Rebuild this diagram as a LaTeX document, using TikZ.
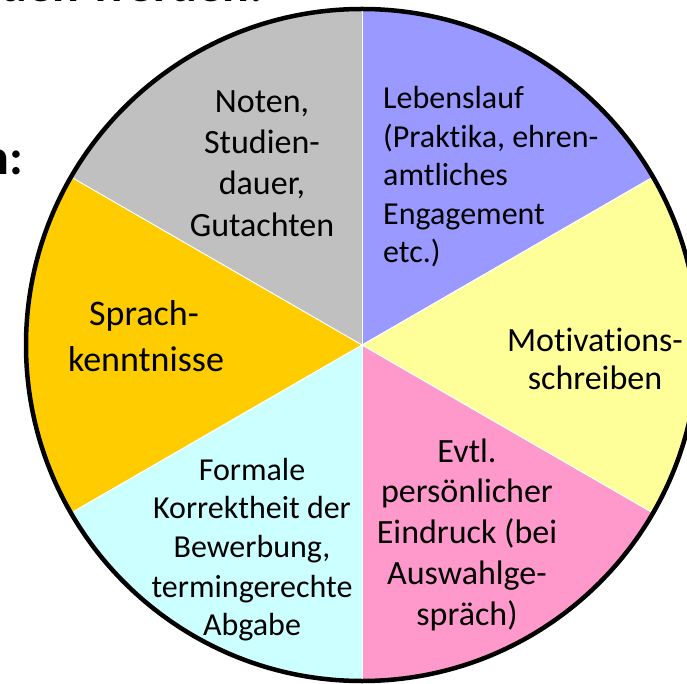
\documentclass[tikz,border=0pt]{standalone}
\usepackage{fontspec}
\setmainfont[Ligatures=NoCommon,RawFeature={-liga;-calt;-dlig;-clig}]{Carlito}
\usetikzlibrary{calc}
\definecolor{pblue}{HTML}{9999FF}
\definecolor{pgray}{HTML}{C0C0C0}
\definecolor{porange}{HTML}{FFCC00}
\definecolor{pcyan}{HTML}{CCFFFF}
\definecolor{ppink}{HTML}{FF99CC}
\definecolor{pyellow}{HTML}{FFFF99}
\tikzset{
  lblA/.style={font=\fontsize{32}{38}\selectfont, inner sep=0pt, anchor=base},
  lblB/.style={font=\fontsize{34}{41}\selectfont, inner sep=0pt, anchor=base},
  lblC/.style={font=\fontsize{36}{43}\selectfont, inner sep=0pt, anchor=base},
  lblW/.style={font=\fontsize{32}{38}\selectfont, inner sep=0pt, anchor=base west},
  headtxt/.style={font=\bfseries\fontsize{50}{60}\selectfont, inner sep=0pt, anchor=base east},
  spoke/.style={white, line width=1pt},
  rim/.style={black, line width=4.5pt}
}
\begin{document}
\begin{tikzpicture}[x=1pt,y=1pt]
\useasboundingbox (0,0) rectangle (687,683);
\clip (0,0) rectangle (687,683);
\fill[white] (0,0) rectangle (687,683);
\coordinate (c) at (362,338);
\def\R{336}
\foreach \a/\col in {30/pblue,90/pgray,150/porange,210/pcyan,270/ppink,330/pyellow}
  \fill[\col] (c) -- ++(\a:\R) arc[start angle=\a, delta angle=60, radius=\R] -- cycle;
\foreach \a in {30,90,150,210,270,330}
  \coordinate (s\a) at ($(c)+(\a:\R)$);
\foreach \a in {30,90,150,210,270,330}
  \draw[spoke] (c) -- (s\a);
\draw[rim] (c) circle[radius=\R];

% header fragments
\node[headtxt] (head) at (263,681) {den werden:};
\node[headtxt] (side) at (23,508) {n:};

% gray
\node[lblB] (g1) at (262,570) {Noten,};
\node[lblB] (g2) at (262,529) {Studien-};
\node[lblB] (g3) at (262,488) {dauer,};
\node[lblB] (g4) at (262,446) {Gutachten};

% blue
\node[lblW] (b1) at (383,574) {Lebenslauf};
\node[lblW] (b2) at (383,535) {(Praktika, ehren-};
\node[lblW] (b3) at (383,497) {amtliches};
\node[lblW] (b4) at (383,458) {Engagement};
\node[lblW] (b5) at (383,420) {etc.)};

% yellow
\node[lblB] (y1) at (595,331) {Motivations-};
\node[lblB] (y2) at (595,293) {schreiben};

% pink
\node[lblB] (p1) at (467,221) {Evtl.};
\node[lblB] (p2) at (467,181) {persönlicher};
\node[lblB] (p3) at (467,140) {Eindruck (bei};
\node[lblB] (p4) at (467,99) {Auswahlge-};
\node[lblB] (p5) at (467,58) {spräch)};

% cyan
\node[lblA] (k1) at (252,203) {Formale};
\node[lblA] (k2) at (252,165) {Korrektheit der};
\node[lblA] (k3) at (252,126) {Bewerbung,};
\node[lblA] (k4) at (252,86) {termingerechte};
\node[lblA] (k5) at (252,48) {Abgabe};

% orange
\node[lblC] (o1) at (144,357) {Sprach-};
\node[lblC] (o2) at (146,311) {kenntnisse};
\end{tikzpicture}
\end{document}
